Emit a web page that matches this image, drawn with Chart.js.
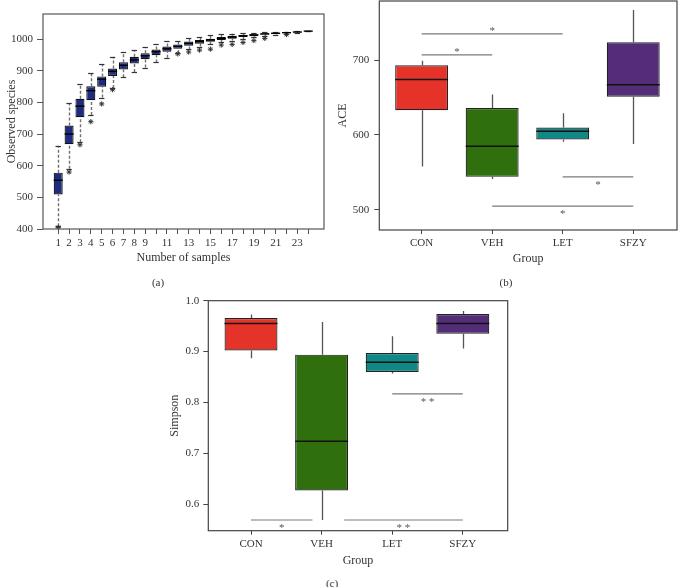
<!DOCTYPE html>
<html>
<head>
<meta charset="utf-8">
<script src="https://cdn.jsdelivr.net/npm/chart.js@4.4.0/dist/chart.umd.min.js"></script>
<style>
  body { margin: 0; background: #fff; width: 678px; height: 587px; position: relative; overflow: hidden; font-family: "Liberation Serif", serif; }
  canvas { position: absolute; }
  .tag { position: absolute; font-size: 11px; color: #333; transform: translate(-50%, -50%); white-space: nowrap; }
</style>
</head>
<body>
<canvas id="chartA"></canvas>
<canvas id="chartB"></canvas>
<canvas id="chartC"></canvas>
<div class="tag" style="left:158px;top:282px">(a)</div>
<div class="tag" style="left:506px;top:282px">(b)</div>
<div class="tag" style="left:332px;top:583px">(c)</div>
<script>
// ---- (a) rarefaction : observed species vs number of samples ----
const samples  = [1,2,3,4,5,6,7,8,9,10,11,12,13,14,15,16,17,18,19,20,21,22,23,24];
const rareHi   = [663,797,858,893,921,944,958,964,975,983,993,995,1002,1007,1012,1015,1017,1018,1019,1021,1022,1023,1024,1025];
const rareQ3   = [578,727,811,851,882,907,927,944,955,967,976,983,992,997,1001,1006,1010,1013,1015,1018,1020,1021,1023,1025];
const rareMed  = [554,700,788,837,873,898,917,934,947,960,969,977,986,992,997,1002,1006,1010,1013,1016,1018,1020,1022,1025];
const rareQ1   = [509,668,753,807,849,883,904,923,936,949,960,969,979,985,991,997,1001,1006,1009,1014,1017,1019,1021,1025];
const rareLo   = [409,590,674,760,815,845,879,896,910,926,941,955,967,976,983,989,995,1000,1005,1009,1014,1016,1020,1025];
const rareOutX = [1,2,3,4,5,6,12,13,14,15,16,17,18,19,20,22];
const rareOutY = [405,580,666,739,795,840,953,959,965,968,981,983,989,995,1002,1014];
const rareTickText = ['1','2','3','4','5','6','7','8','9','','11','','13','','15','','17','','19','','21','','23',''];
const rareYTicks = [400,500,600,700,800,900,1000];

// ---- (b) ACE by group ----
const groups = ['CON','VEH','LET','SFZY'];
const groupX = [0,1,2,3];
const aceHi  = [699,654,629,767];
const aceQ3  = [693,636,610,724];
const aceMed = [674,585,605,667];
const aceQ1  = [633,544,594,651];
const aceLo  = [558,541,591,588];
const aceYTicks = [500,600,700];
const aceSig = [
    { from: 0, to: 2, y: 735, text: '*', side: -1 },
    { from: 0, to: 1, y: 707, text: '*', side: -1 },
    { from: 2, to: 3, y: 544, text: '*', side: 1 },
    { from: 1, to: 3, y: 505, text: '*', side: 1 }
];

// ---- (c) Simpson by group ----
const simHi  = [0.973,0.958,0.930,0.980];
const simQ3  = [0.966,0.894,0.897,0.974];
const simMed = [0.955,0.724,0.879,0.955];
const simQ1  = [0.902,0.627,0.860,0.935];
const simLo  = [0.887,0.569,0.857,0.906];
const simYTicks = [0.6,0.7,0.8,0.9,1.0];
const simSig = [
    { from: 2, to: 3, y: 0.817, text: '**', side: 1 },
    { from: 0, to: 0.87, y: 0.569, text: '*', side: 1 },
    { from: 1.32, to: 3, y: 0.569, text: '**', side: 1 }
];

const groupColors = ['#e5332a','#2f6f0e','#0f8986','#532d78'];

Chart.defaults.font.family = '"Liberation Serif", "Times New Roman", serif';
Chart.defaults.font.size = 11;
Chart.defaults.color = '#333';

// whiskers, medians, caps, significance stars and the frame
function boxDecor(o) {
    return {
        id: 'boxDecor',
        beforeDatasetsDraw(chart) {
            const { ctx, scales: { x, y } } = chart;
            const b = o.box;
            ctx.save();
            ctx.strokeStyle = o.whiskerColor;
            ctx.lineWidth = o.whiskerWidth;
            ctx.setLineDash(o.whiskerDash || []);
            b.x.forEach((v, i) => {
                const px = Math.round(x.getPixelForValue(v)) + 0.5;
                ctx.beginPath();
                ctx.moveTo(px, y.getPixelForValue(b.lo[i]));
                ctx.lineTo(px, y.getPixelForValue(b.q1[i]));
                ctx.moveTo(px, y.getPixelForValue(b.q3[i]));
                ctx.lineTo(px, y.getPixelForValue(b.hi[i]));
                ctx.stroke();
            });
            ctx.restore();
        },
        afterDatasetsDraw(chart) {
            const { ctx, scales: { x, y }, chartArea } = chart;
            const b = o.box;
            const bars = chart.getDatasetMeta(0).data;
            ctx.save();
            // caps
            if (o.cap) {
                ctx.strokeStyle = o.capColor;
                ctx.lineWidth = 1.2;
                b.x.forEach((v, i) => {
                    const px = x.getPixelForValue(v);
                    const hw = bars[i].width * o.cap / 2;
                    [b.lo[i], b.hi[i]].forEach(val => {
                        const py = Math.round(y.getPixelForValue(val)) + 0.5;
                        ctx.beginPath();
                        ctx.moveTo(px - hw, py);
                        ctx.lineTo(px + hw, py);
                        ctx.stroke();
                    });
                });
            }
            // medians
            ctx.strokeStyle = o.medianColor;
            ctx.lineWidth = o.medianWidth;
            b.x.forEach((v, i) => {
                const px = x.getPixelForValue(v);
                const hw = bars[i].width / 2;
                const py = y.getPixelForValue(b.med[i]);
                ctx.beginPath();
                ctx.moveTo(px - hw, py);
                ctx.lineTo(px + hw, py);
                ctx.stroke();
            });
            // significance marks
            (o.sig || []).forEach(s => {
                const mx = (x.getPixelForValue(s.from) + x.getPixelForValue(s.to)) / 2;
                const py = y.getPixelForValue(s.y) + s.side * 5.5;
                ctx.fillStyle = '#555';
                ctx.font = '11px "Liberation Serif", serif';
                ctx.textAlign = 'center';
                ctx.textBaseline = 'alphabetic';
                ctx.fillText(s.text.split('').join(' '), mx, py + 5.5);
            });
            ctx.restore();
        },
        afterDraw(chart) {
            const { ctx, chartArea: a } = chart;
            ctx.save();
            ctx.strokeStyle = o.frameColor;
            ctx.lineWidth = 1.2;
            ctx.strokeRect(a.left, a.top, a.right - a.left, a.bottom - a.top);
            ctx.restore();
        }
    };
}

function boxChart(id, o) {
    const cv = document.getElementById(id);
    const [left, top, w, h] = o.pos;
    const [al, at, ar, ab] = o.area;
    cv.width = w; cv.height = h;
    cv.style.left = left + 'px'; cv.style.top = top + 'px';
    cv.style.width = w + 'px'; cv.style.height = h + 'px';

    const b = o.box;
    const datasets = [{
        type: 'bar',
        data: b.x.map((v, i) => ({ x: v, y: [b.q1[i], b.q3[i]] })),
        backgroundColor: o.colors,
        borderColor: o.edge,
        borderWidth: 1.2,
        borderSkipped: false,
        categoryPercentage: 1,
        barPercentage: o.barPct
    }];
    (o.sig || []).forEach(s => {
        datasets.push({
            type: 'line',
            data: [{ x: s.from, y: s.y }, { x: s.to, y: s.y }],
            borderColor: '#7a7a7a',
            borderWidth: 1.2,
            pointRadius: 0,
            fill: false
        });
    });
    if (o.outX) {
        datasets.push({
            type: 'scatter',
            data: o.outX.map((v, i) => ({ x: v, y: o.outY[i] })),
            pointStyle: 'star',
            radius: 2.6,
            borderColor: '#333',
            backgroundColor: '#333',
            borderWidth: 1
        });
    }

    return new Chart(cv, {
        type: 'bar',
        data: { datasets },
        plugins: [boxDecor(o)],
        options: {
            responsive: false,
            animation: false,
            layout: { padding: { left: 0, top: at - top, right: left + w - ar, bottom: 0 } },
            plugins: { legend: { display: false }, tooltip: { enabled: false } },
            scales: {
                x: {
                    type: 'linear',
                    min: o.x.min, max: o.x.max,
                    offset: false,
                    afterBuildTicks: s => { s.ticks = o.x.ticks.map(v => ({ value: v })); },
                    ticks: { autoSkip: false, maxRotation: 0, padding: o.x.pad, color: '#333',
                             callback: (v, i) => o.x.labels[i] },
                    grid: { drawOnChartArea: false, offset: false, tickLength: o.x.tickLen, color: o.frameColor },
                    border: { display: false },
                    title: { display: true, text: o.xTitle, font: { size: 12 }, color: '#333',
                             padding: { top: 0, bottom: o.xTitlePad } },
                    afterFit: s => { s.height = top + h - ab; s.paddingLeft = 0; s.paddingRight = 0; }
                },
                y: {
                    type: 'linear',
                    min: o.y.min, max: o.y.max,
                    afterBuildTicks: s => { s.ticks = o.y.ticks.map(v => ({ value: v })); },
                    ticks: { padding: o.y.pad, color: '#333', callback: o.y.fmt || (v => String(v)) },
                    grid: { drawOnChartArea: false, tickLength: o.y.tickLen, color: o.frameColor },
                    border: { display: false },
                    title: { display: true, text: o.yTitle, font: { size: 12 }, color: '#333',
                             padding: { top: o.yTitlePad, bottom: 0 } },
                    afterFit: s => { s.width = al - left; s.paddingTop = 0; s.paddingBottom = 0; }
                }
            }
        }
    });
}

boxChart('chartA', {
    pos: [0, 0, 340, 270], area: [43, 14, 324, 229],
    x: { min: -0.4, max: 25.45, ticks: samples, labels: rareTickText, tickLen: 5, pad: 3 },
    y: { min: 400, max: 1079, ticks: rareYTicks, tickLen: 6, pad: 4 },
    xTitle: 'Number of samples', yTitle: 'Observed species', xTitlePad: 5, yTitlePad: 5,
    box: { x: samples, lo: rareLo, q1: rareQ1, med: rareMed, q3: rareQ3, hi: rareHi },
    outX: rareOutX, outY: rareOutY,
    colors: '#1d2c82', edge: '#111', barPct: 0.83,
    whiskerColor: '#707070', whiskerWidth: 1.4, whiskerDash: [3, 2], cap: 0.6, capColor: '#333',
    medianColor: '#000', medianWidth: 1.4, frameColor: '#555'
});

boxChart('chartB', {
    pos: [330, 0, 348, 270], area: [379.3, 1, 677, 230],
    x: { min: -0.6, max: 3.62, ticks: groupX, labels: groups, tickLen: 4, pad: 3 },
    y: { min: 473, max: 779, ticks: aceYTicks, tickLen: 5, pad: 5 },
    xTitle: 'Group', yTitle: 'ACE', xTitlePad: 4, yTitlePad: 6,
    box: { x: groupX, lo: aceLo, q1: aceQ1, med: aceMed, q3: aceQ3, hi: aceHi },
    sig: aceSig,
    colors: groupColors, edge: '#222', barPct: 0.75,
    whiskerColor: '#555', whiskerWidth: 1.3,
    medianColor: '#111', medianWidth: 1.5, frameColor: '#444'
});

boxChart('chartC', {
    pos: [140, 270, 380, 305], area: [208.3, 300.7, 507.7, 530.7],
    x: { min: -0.605, max: 3.636, ticks: groupX, labels: groups, tickLen: 4, pad: 3 },
    y: { min: 0.548, max: 1.0, ticks: simYTicks, tickLen: 5, pad: 4, fmt: v => v.toFixed(1) },
    xTitle: 'Group', yTitle: 'Simpson', xTitlePad: 7, yTitlePad: 28,
    box: { x: groupX, lo: simLo, q1: simQ1, med: simMed, q3: simQ3, hi: simHi },
    sig: simSig,
    colors: groupColors, edge: '#222', barPct: 0.75,
    whiskerColor: '#555', whiskerWidth: 1.3,
    medianColor: '#111', medianWidth: 1.5, frameColor: '#444'
});
</script>
</body>
</html>
